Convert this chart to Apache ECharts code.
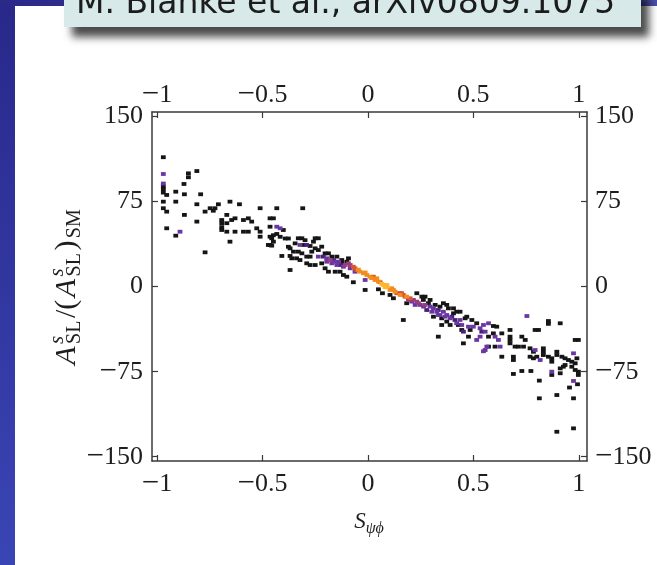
<!DOCTYPE html>
<html>
<head>
<meta charset="utf-8">
<script src="https://cdn.jsdelivr.net/npm/echarts@6/dist/echarts.min.js"></script>
<style>
  html, body { margin: 0; padding: 0; background: #ffffff; }
  #chart { width: 657px; height: 565px; }
</style>
</head>
<body>
<div id="chart"></div>
<script>
// Tick positions on the frame
const xTicks = [-1, -0.5, 0, 0.5, 1];
const yTicks = [-150, -75, 0, 75, 150];

// Occupied histogram cells, grouped by point density (lowest to highest)
const densityBlack = [
  [-0.970,114.2],[-0.851,100],[-0.851,96.5],[-0.811,102],[-0.970,88.5],[-0.970,86],[-0.970,83],
  [-0.872,90.6],[-0.911,83.8],[-0.954,80.9],[-0.870,81.5],[-0.793,81.5],[-0.970,75],[-0.911,75],
  [-0.811,72.7],[-0.709,72.7],[-0.654,75],[-0.609,72.7],[-0.511,69.2],[-0.970,69.2],[-0.954,66.2],
  [-0.870,63.3],[-0.772,66.2],[-0.748,69.2],[-0.733,67],[-0.725,69.2],[-0.669,63.3],[-0.693,58.8],
  [-0.693,56],[-0.669,56],[-0.646,58.8],[-0.630,60.3],[-0.590,58.8],[-0.567,60.3],[-0.551,57.4],
  [-0.464,60.3],[-0.811,57.4],[-0.693,50],[-0.669,48.5],[-0.693,52.5],[-0.630,48.5],[-0.590,48.5],
  [-0.567,48.5],[-0.527,51.5],[-0.511,48.5],[-0.511,44.1],[-0.464,52.9],[-0.464,44.1],[-0.464,36.8],
  [-0.954,51.5],[-0.911,45],[-0.654,39.7],[-0.772,30.3],
  [-0.432,69.2],[-0.309,69.2],[-0.448,60.3],[-0.401,50],[-0.448,45.4],[-0.432,46.5],[-0.416,44],
  [-0.392,42.5],[-0.377,42.5],[-0.456,42.7],[-0.448,39.7],[-0.472,36.8],[-0.456,36.2],[-0.408,27.1],
  [-0.369,27.1],[-0.361,25],[-0.369,14.7],[-0.377,35.2],[-0.369,33.8],[-0.330,42.7],[-0.313,42.7],
  [-0.298,41],[-0.306,36.8],[-0.274,35.9],[-0.250,42.7],[-0.235,42.7],[-0.250,33.8],[-0.235,32.3],
  [-0.330,30.9],[-0.313,29.4],[-0.290,26.5],[-0.274,26.5],[-0.290,20.6],[-0.274,19.1],[-0.250,19.1],
  [-0.353,30.9],[-0.345,38.2],[-0.338,25],[-0.322,23.5],[-0.266,30.9],[-0.258,39.7],[-0.219,35.3],
  [-0.203,29.4],[-0.187,29.4],[-0.171,26.5],[-0.219,20.6],[-0.203,16.2],[-0.187,13.2],[-0.155,13.2],
  [-0.147,26.5],[-0.124,23.5],[-0.092,25],[-0.100,22],[-0.124,20.6],[-0.132,13.2],[-0.116,10.3],
  [-0.100,8.8],[-0.069,3.9],[-0.013,-2.9],[0.050,-2.3],[0.069,-5.8],[0.232,-5.8],[0.256,-8.8],
  [0.263,-11.7],[0.287,-14.6],[0.319,-16.1],[0.342,-17.6],[0.382,-19.1],[0.406,-19.1],[0.406,-23.5],
  [0.311,-26.5],[0.350,-33.8],[0.390,-33.8],[0.429,-33.8],[0.461,-27.9],[0.469,-26.5],[0.516,-32.3],
  [0.493,-29.4],[0.168,-29.4],[0.334,-44.1],[0.453,-50],[0.477,-44.1],[0.572,-44.1],
  [0.105,-7.3],[0.121,-10.2],[0.184,-14.6],[0.271,-8.8],[0.295,-11.7],[0.358,-14.6],[0.374,-16.1],
  [0.421,-22.1],[0.437,-22.1],[0.350,-27.9],[0.374,-30.8],[0.485,-38.2],[0.445,-38.2],
  [0.856,-30.3],[0.856,-32.8],[0.912,-32.3],[0.793,-38.2],[0.809,-38.2],[0.983,-47],[0.998,-47],
  [0.595,-34.7],[0.611,-35.3],[0.595,-41.2],[0.572,-52.9],[0.603,-52.9],[0.635,-41.2],[0.674,-38.2],
  [0.674,-44.1],[0.674,-47],[0.674,-50],[0.635,-61.8],[0.698,-52.9],[0.714,-52.9],[0.738,-52.9],
  [0.730,-44.1],[0.746,-47],[0.769,-54.4],[0.785,-57.4],[0.832,-54.4],[0.832,-57.4],[0.832,-60.3],
  [0.690,-61.8],[0.690,-64.7],[0.769,-61.8],[0.785,-63.2],[0.801,-61.8],[0.856,-61.8],[0.872,-63.2],
  [0.872,-66.2],[0.896,-57.4],[0.896,-60.3],[0.920,-61.8],[0.935,-63.2],[0.951,-64.7],[0.967,-66.2],
  [0.983,-67.6],[0.991,-63.2],[0.872,-77.9],[0.912,-72.1],[0.912,-76.4],[0.927,-70.6],[0.935,-69.1],
  [0.967,-70.6],[0.983,-73.5],[0.998,-75],[0.998,-77.9],[0.690,-77],[0.730,-74.4],[0.773,-74.4],
  [0.813,-82.9],[0.956,-89],[0.994,-86.1],[0.813,-98.5],[0.896,-95.6],[0.975,-98.5],[0.896,-128],
  [0.975,-125]
];
const densityDeepPurple = [
  [-0.211,26.5],[-0.132,19.1],[-0.290,36.8],[0.334,-20.6],[0.398,-26.5],[0.540,-39.7],[0.453,-39.7],
  [-0.163,23.5],[0.279,-20.6],[0.413,-29.4]
];
const densityPurple = [
  [-0.970,99.4],[-0.970,91],[-0.891,48.5],[-0.432,52.9],[-0.416,51.5],[-0.322,36.8],[-0.235,26.5],
  [-0.195,25],[-0.195,22],[-0.171,20.6],[-0.155,22],[-0.147,19.1],[-0.084,16.2],[-0.061,13.2],
  [-0.013,5.9],[0.153,-5.8],[0.208,-13.2],[0.248,-16.1],[0.295,-17.6],[0.311,-19.1],[0.358,-22.1],
  [0.374,-25],[0.334,-25],[0.437,-29.4],[0.477,-35.3],[0.500,-35.3],[0.532,-36.7],[0.572,-32.3],
  [0.516,-47],[0.532,-44.1],[0.564,-52.9],[0.556,-55.9],[0.754,-25.9],[0.548,-33.8],[0.556,-39.7],
  [0.603,-44.1],[0.619,-47],[0.627,-52.9],[0.548,-57],[0.793,-55.9],[0.817,-64.7],[0.975,-58.8],
  [0.872,-75],[0.975,-83.2],
  [-0.139,22],[-0.116,17.6],[0.224,-16.1],[0.264,-17.6],[0.303,-22.1],[0.327,-22.1],[0.342,-25],
  [0.366,-26.5],[0.390,-27.9],[0.421,-32.3],[0.445,-33.8]
];
const densityMagenta = [
  [-0.179,23.5],[-0.108,19.1],[-0.084,19.1],[0.216,-11.7],[0.232,-13.2],[0.271,-16.1],
  [-0.092,20.6],[0.192,-11.7],[0.240,-14.6]
];
const densityRed = [
  [-0.069,17.6],[-0.053,14.7],[0.026,8.8],[0.058,3.9],[0.168,-7.3],[0.200,-10.2],
  [-0.061,16.2],[0.160,-5.8],[0.137,-5.8],[0.176,-8.8]
];
const densityOrange = [
  [-0.037,13.2],[-0.021,11.8],[-0.005,10.3],[0.010,8.8],[0.042,7.4],[0.113,-1.4],[0.129,-4.4],[0.184,-8.8],
  [-0.045,15],[-0.013,12.5],[0.018,7.5],[0.034,5.9],[0.050,4.5],[0.105,-2.9],[0.121,-2.9],[0.153,-7.3]
];
const densityAmber = [
  [0.074,1.5],[0.090,1.5],[0.090,0],[0.066,2.5],[0.082,-0.5]
];

const levels = [
  { name: 'n1', data: densityBlack, color: '#151515' },
  { name: 'n2', data: densityDeepPurple, color: '#45207a' },
  { name: 'n3', data: densityPurple, color: '#6a36a2' },
  { name: 'n4', data: densityMagenta, color: '#9a3c7c' },
  { name: 'n5', data: densityRed, color: '#d8562e' },
  { name: 'n6', data: densityOrange, color: '#f28c1c' },
  { name: 'n7', data: densityAmber, color: '#ffb52c' }
];

const SERIF = '"Liberation Serif", "Times New Roman", serif';
// negative values get a long minus sign; both parts share one line height
const fmt = v => (v < 0 ? '{m|\u2212}{d|' + Math.abs(v) + '}' : '{d|' + v + '}');
const labelRich = {
  m: { fontFamily: SERIF, fontSize: 31, lineHeight: 28, color: '#1e1e1e' },
  d: { fontFamily: SERIF, fontSize: 26, lineHeight: 28, color: '#1e1e1e' }
};

function xAxisSpec(position, margin) {
  return {
    type: 'value', position: position,
    min: -1.0237, max: 1.039,
    axisLine: { show: true, onZero: false, lineStyle: { color: '#3a3a3a', width: 1.5 } },
    axisTick: { show: true, inside: true, length: 6, customValues: xTicks, lineStyle: { color: '#3a3a3a', width: 1.2 } },
    axisLabel: { customValues: xTicks, formatter: fmt, rich: labelRich, fontFamily: SERIF, fontSize: 26, lineHeight: 28, color: '#1e1e1e', margin: margin },
    splitLine: { show: false }
  };
}
function yAxisSpec(position, margin) {
  return {
    type: 'value', position: position,
    min: -153.8, max: 154.1,
    axisLine: { show: true, onZero: false, lineStyle: { color: '#3a3a3a', width: 1.5 } },
    axisTick: { show: true, inside: true, length: 6, customValues: yTicks, lineStyle: { color: '#3a3a3a', width: 1.2 } },
    axisLabel: { customValues: yTicks, formatter: fmt, rich: labelRich, fontFamily: SERIF, fontSize: 26, lineHeight: 28, color: '#1e1e1e', margin: margin },
    splitLine: { show: false }
  };
}

// Lay out a run of text pieces with sub/superscripts, measuring widths
const measureCtx = document.createElement('canvas').getContext('2d');
function fontOf(p) { return (p.italic ? 'italic ' : '') + p.size + 'px ' + SERIF; }
function buildRun(pieces, color, gap) {
  let x = 0, groupStart = 0, groupWidth = 0;
  const placed = [];
  pieces.forEach(p => {
    measureCtx.font = fontOf(p);
    const w = measureCtx.measureText(p.t).width;
    if (p.stack) {
      placed.push({ p: p, x: groupStart });
      groupWidth = Math.max(groupWidth, w);
      x = groupStart + groupWidth + gap;
    } else {
      groupStart = x; groupWidth = w;
      placed.push({ p: p, x: x });
      x += w + gap;
    }
  });
  const total = x - gap;
  return placed.map(item => ({
    type: 'text',
    x: item.x - total / 2,
    y: item.p.dy || 0,
    style: { text: item.p.t, font: fontOf(item.p), fill: color, verticalAlign: 'middle', align: 'left' }
  }));
}

const yNamePieces = [
  { t: 'A', size: 30, italic: true },
  { t: 's', size: 21, italic: true, dy: -10 },
  { t: 'SL', size: 20, dy: 8, stack: true },
  { t: '/(', size: 30 },
  { t: 'A', size: 30, italic: true },
  { t: 's', size: 21, italic: true, dy: -10 },
  { t: 'SL', size: 20, dy: 8, stack: true },
  { t: ')', size: 30 },
  { t: 'SM', size: 20, dy: 8 }
];
const xNamePieces = [
  { t: 'S', size: 23, italic: true },
  { t: '\u03C8\u03D5', size: 16, italic: true, dy: 7 }
];

const chart = echarts.init(document.getElementById('chart'), null, { renderer: 'canvas' });
chart.setOption({
  backgroundColor: '#ffffff',
  animation: false,
  grid: { left: 152, right: 70, top: 112, bottom: 104, containLabel: false },
  xAxis: [xAxisSpec('bottom', 9), xAxisSpec('top', 3)],
  yAxis: [yAxisSpec('left', 9), yAxisSpec('right', 8)],
  series: levels.map(l => ({
    name: l.name,
    type: 'scatter',
    xAxisIndex: 0, yAxisIndex: 0,
    symbol: 'rect',
    symbolSize: [4.8, 3.8],
    itemStyle: { color: l.color, opacity: 1 },
    data: l.data,
    z: 3
  })),
  graphic: [
    // slide frame: blue edge strips
    { type: 'rect', z: 0, shape: { x: 0, y: 0, width: 15, height: 565 },
      style: { fill: new echarts.graphic.LinearGradient(0, 0, 0, 1, [{ offset: 0, color: '#29288a' }, { offset: 1, color: '#3a45b5' }]) } },
    { type: 'rect', z: 0, shape: { x: 0, y: 0, width: 657, height: 6 },
      style: { fill: new echarts.graphic.LinearGradient(0, 0, 1, 0, [{ offset: 0, color: '#2a2888' }, { offset: 1, color: '#4a4fa8' }]) } },
    // citation box with drop shadow
    { type: 'rect', z: 1, shape: { x: 64, y: -12, width: 577, height: 39 },
      style: { fill: '#d8e9e9', shadowColor: 'rgba(0,0,0,0.7)', shadowBlur: 8, shadowOffsetX: 8, shadowOffsetY: 10 } },
    { type: 'text', z: 2, x: 76, y: 4,
      style: { text: 'M. Blanke et al., arXiv0809.1075', font: '33px "DejaVu Sans", Verdana, sans-serif', fill: '#1c1c1c', verticalAlign: 'middle', align: 'left' } },
    // axis titles
    { type: 'group', x: 67, y: 287, rotation: Math.PI / 2, children: buildRun(yNamePieces, '#1e1e1e', 2.5) },
    { type: 'group', x: 369, y: 522, children: buildRun(xNamePieces, '#1e1e1e', 0) }
  ]
});
</script>
</body>
</html>
